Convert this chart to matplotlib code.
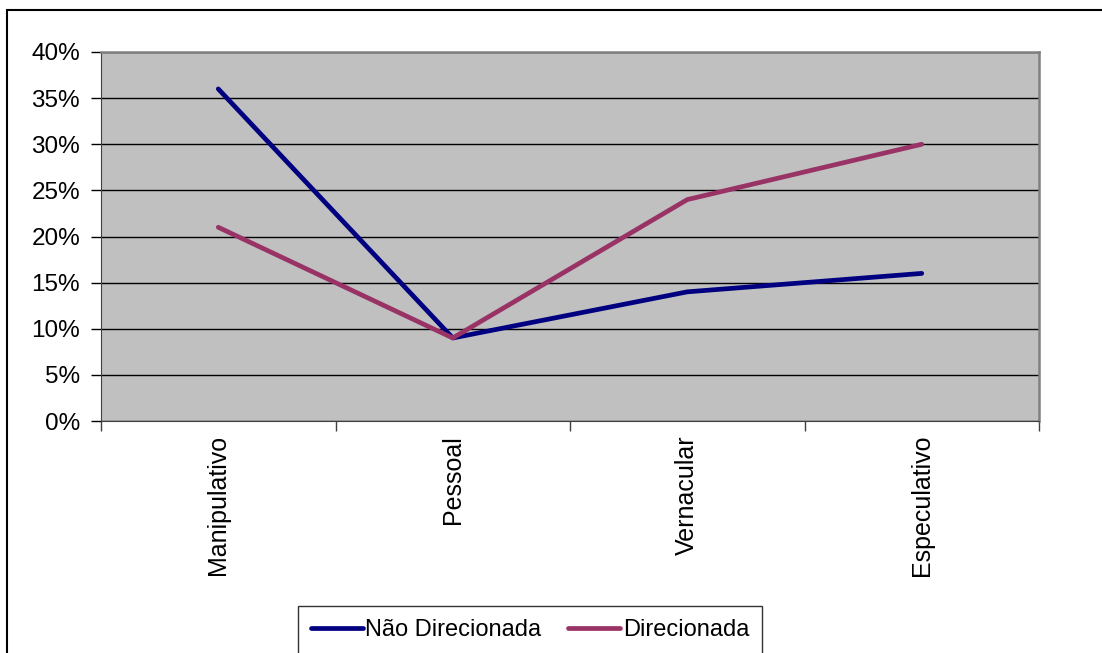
import matplotlib.pyplot as plt
from matplotlib.patches import Rectangle
from matplotlib.ticker import FixedLocator, PercentFormatter

# Dados
categorias = ["Manipulativo", "Pessoal", "Vernacular", "Especulativo"]
nao_direcionada = [36, 9, 14, 16]
direcionada = [21, 9, 24, 30]
y_ticks = [0, 5, 10, 15, 20, 25, 30, 35, 40]

plt.rcParams["font.family"] = ["Liberation Sans", "DejaVu Sans"]

fig = plt.figure(figsize=(11.02, 6.53), dpi=100)
ax = fig.add_axes([101 / 1102, 1 - 421 / 653, 938 / 1102, 369 / 653])

ax.set_facecolor("#C0C0C0")
x = list(range(len(categorias)))
ax.plot(x, nao_direcionada, color="#000080", lw=3.4,
        solid_capstyle="round", label="Não Direcionada", zorder=3)
ax.plot(x, direcionada, color="#993366", lw=3.4,
        solid_capstyle="round", label="Direcionada", zorder=3)

ax.set_xlim(-0.5, len(categorias) - 0.5)
ax.set_ylim(0, 40)
ax.set_yticks(y_ticks)
ax.yaxis.set_major_formatter(PercentFormatter(decimals=0))
ax.grid(axis="y", color="black", lw=1.0)
ax.set_axisbelow(True)

ax.set_xticks(x)
ax.set_xticklabels(categorias, rotation=90, va="top", ha="center")
ax.xaxis.set_minor_locator(FixedLocator([i - 0.5 for i in range(len(categorias) + 1)]))
ax.tick_params(axis="x", which="major", length=0, pad=10, labelsize=18)
ax.tick_params(axis="x", which="minor", length=7, width=1, color="#404040")
ax.tick_params(axis="y", length=7, width=1, labelsize=17.5, pad=8)

for side in ("top", "right"):
    ax.spines[side].set_color("#808080")
    ax.spines[side].set_linewidth(1.8)
ax.spines["left"].set_color("#404040")
ax.spines["bottom"].set_color("#404040")

leg = fig.legend(loc="upper center", bbox_to_anchor=(530 / 1102, 1 - 606 / 653),
                 borderaxespad=0, ncol=2, fontsize=17, frameon=True,
                 fancybox=False, edgecolor="black", handlelength=2.2,
                 handletextpad=0.1, columnspacing=1.15, borderpad=0.55)
leg.get_frame().set_linewidth(1.0)

# moldura externa do gráfico
fig.patches.append(Rectangle((7 / 1102, -0.05), 1.2, 1 - 10 / 653 + 0.05,
                             transform=fig.transFigure, fill=False,
                             edgecolor="black", lw=1.5))

fig.savefig("out.png", dpi=100)
